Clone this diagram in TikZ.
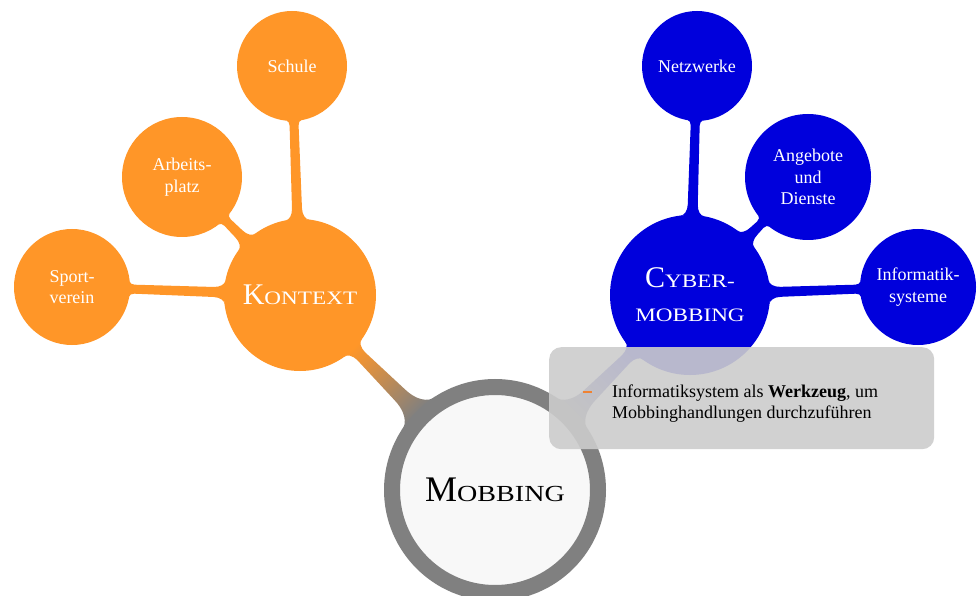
\documentclass[tikz,border=0pt]{standalone}
\usepackage{fontspec}
\setmainfont{Liberation Serif}
\usepackage{graphicx}
\usetikzlibrary{calc}
\definecolor{konorange}{RGB}{255,150,40}
\definecolor{cybblue}{RGB}{0,0,220}
\definecolor{mobgray}{RGB}{128,128,128}
\definecolor{mobfill}{RGB}{248,248,248}
\definecolor{boxgray}{RGB}{204,204,204}
\definecolor{dashorange}{RGB}{240,130,50}
\newcommand{\myfakesc}[2]{{\fontsize{#1}{#1}\selectfont\scalebox{1.22}[1]{#2}}}
% tapered connection bar between two circles
% #1 node A, #2 node B, #3 radius A, #4 radius B, #5 half width at A,
% #6 half width at B, #7 flare spread at A, #8 flare spread at B, #9 fill/shade options
\newcommand{\conbar}[9]{%
  \path let \p1=(#1.center), \p2=(#2.center) in
    \pgfextra{\pgfmathsetmacro\cbang{atan2(\y2-\y1,\x2-\x1)}%
      \pgfmathsetmacro\cblen{veclen(\x2-\x1,\y2-\y1)}%
      \xdef\cbang{\cbang}\xdef\cblen{\cblen}};
  \pgfmathsetmacro\cbya{#5+#7}%
  \pgfmathsetmacro\cbxa{sqrt((#3)*(#3)-\cbya*\cbya)}%
  \pgfmathsetmacro\cbyb{#6+#8}%
  \pgfmathsetmacro\cbxb{\cblen-sqrt((#4)*(#4)-\cbyb*\cbyb)}%
  \pgfmathsetmacro\cbqa{#3+1.5*(#7)}%
  \pgfmathsetmacro\cbqb{\cblen-(#4)-1.5*(#8)}%
  \pgfmathsetmacro\cbca{\cbqa-0.55*(\cbqa-\cbxa)}%
  \pgfmathsetmacro\cbcb{\cbqb+0.55*(\cbxb-\cbqb)}%
  \pgfmathsetmacro\cbda{\cbya-0.55*(#7)}%
  \pgfmathsetmacro\cbdb{\cbyb-0.55*(#8)}%
  \pgfmathsetmacro\cbsa{#3-1}%
  \pgfmathsetmacro\cbsb{\cblen-(#4)+1}%
  \begin{scope}[transform canvas={shift={(#1.center)},rotate=\cbang}]
    \path[#9] (\cbsa pt,0pt) -- (\cbxa pt,\cbya pt)
      .. controls (\cbxa pt,\cbda pt) and (\cbca pt,#5 pt) .. (\cbqa pt,#5 pt)
      -- (\cbqb pt,#6 pt)
      .. controls (\cbcb pt,#6 pt) and (\cbxb pt,\cbdb pt) .. (\cbxb pt,\cbyb pt)
      -- (\cbsb pt,0pt) -- (\cbxb pt,-\cbyb pt)
      .. controls (\cbxb pt,-\cbdb pt) and (\cbcb pt,-#6 pt) .. (\cbqb pt,-#6 pt)
      -- (\cbqa pt,-#5 pt)
      .. controls (\cbca pt,-#5 pt) and (\cbxa pt,-\cbda pt) .. (\cbxa pt,-\cbya pt)
      -- cycle;
  \end{scope}%
}
\begin{document}
\begin{tikzpicture}[x=1pt,y=-1pt,
  bub/.style={circle, inner sep=0pt, align=center, text=white,
    font=\fontsize{18}{21.5}\selectfont},
  kbub/.style={bub, fill=konorange},
  cbub/.style={bub, fill=cybblue},
  bigfont/.style={font=\fontsize{30}{33}\selectfont}
]
\fill[white] (0,0) rectangle (980,596);
\useasboundingbox (0,0) rectangle (980,596);

% coordinates of the concepts (named before drawing the bars)
\coordinate (mob) at (495,490);
\coordinate (kon) at (300,295);
\coordinate (cyb) at (690,295);
\coordinate (sch) at (292,66);
\coordinate (arb) at (182,177);
\coordinate (spo) at (72,287);
\coordinate (net) at (697,66);
\coordinate (ang) at (808,177);
\coordinate (inf) at (918,287);

% connection bars
\conbar{mob}{kon}{111}{76}{7.5}{5.5}{16}{7}{left color=mobgray, right color=konorange}
\conbar{mob}{cyb}{111}{80}{7.5}{5.5}{16}{7}{left color=mobgray, right color=cybblue}
\conbar{kon}{sch}{76}{55}{5}{4.5}{7}{3}{fill=konorange}
\conbar{kon}{arb}{76}{60}{5}{4.5}{7}{3}{fill=konorange}
\conbar{kon}{spo}{76}{58}{5}{4.5}{7}{3}{fill=konorange}
\conbar{cyb}{net}{80}{55}{5}{4.5}{7}{3}{fill=cybblue}
\conbar{cyb}{ang}{80}{63}{5}{4.5}{7}{3}{fill=cybblue}
\conbar{cyb}{inf}{80}{58}{5}{4.5}{7}{3}{fill=cybblue}

% main concepts
\node[circle, inner sep=0pt, minimum size=206pt, fill=mobfill, draw=mobgray,
  line width=16pt, text=black, font=\fontsize{36}{40}\selectfont]
  (mobn) at (mob) {M\myfakesc{23}{OBBING}};
\node[kbub, bigfont, minimum size=152pt] (konn) at (kon) {K\myfakesc{19}{ONTEXT}};
\node[cbub, bigfont, minimum size=160pt] (cybn) at (cyb)
  {C\myfakesc{19}{YBER-}\\[1pt]\myfakesc{19}{MOBBING}};

% Kontext children
\node[kbub, minimum size=110pt] (schn) at (sch) {Schule};
\node[kbub, minimum size=120pt] (arbn) at (arb) {Arbeits-\\platz};
\node[kbub, minimum size=116pt] (spon) at (spo) {Sport-\\verein};

% Cybermobbing children
\node[cbub, minimum size=110pt] (netn) at (net) {Netzwerke};
\node[cbub, minimum size=126pt] (angn) at (ang) {Angebote\\und\\Dienste};
\node[cbub, minimum size=116pt] (infn) at (inf) {Informatik-\\systeme};

% annotation
\node[rectangle, rounded corners=12pt, fill=boxgray, fill opacity=0.9,
  minimum width=385pt, minimum height=102pt, anchor=north west, inner sep=0pt]
  (note) at (549,347) {};
\node[anchor=base west, inner sep=0pt, font=\fontsize{18}{21}\selectfont, align=left]
  (notetext) at (583,397)
  {\makebox[29pt][l]{\textcolor{dashorange}{\rule[4.5pt]{9pt}{1.6pt}}}\parbox[t]{300pt}{Informatiksystem als \textbf{Werkzeug}, um\\Mobbinghandlungen durchzuführen}};
\end{tikzpicture}
\end{document}
